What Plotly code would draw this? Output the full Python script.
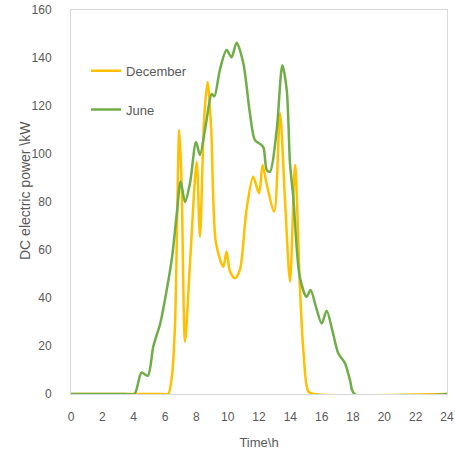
import plotly.graph_objects as go

dec_h = [0, 5.8, 6.2, 6.45, 6.64, 6.91, 7.05, 7.28, 7.6, 8.02, 8.23, 8.5, 8.72, 8.95, 9.25, 9.72, 9.93, 10.15, 10.47, 10.78, 11.2, 11.63, 12.0, 12.23, 12.48, 12.97, 13.34, 13.66, 13.98, 14.3, 14.61, 14.83, 15.15, 15.5, 24]
dec_v = [0, 0, 0, 8, 29, 110, 90, 21.8, 55, 96.8, 65.5, 115, 130, 110, 63, 53, 59.3, 51, 48.2, 51.7, 76.7, 90.5, 83.6, 95.4, 87.8, 76, 117, 80.8, 46.8, 95.4, 44.7, 18.3, 1, 0, 0]

jun_h = [0, 3.5, 4.05, 4.5, 4.9, 5.25, 5.7, 6.1, 6.45, 6.75, 7.0, 7.28, 7.6, 7.98, 8.23, 8.6, 8.98, 9.15, 9.5, 9.93, 10.25, 10.57, 11.0, 11.42, 11.74, 12.17, 12.3, 12.5, 12.7, 13.13, 13.49, 13.77, 13.98, 14.19, 14.6, 15.04, 15.29, 15.65, 16.0, 16.32, 16.7, 17.06, 17.49, 17.8, 18.1, 24]
jun_v = [0, 0, 0, 8.9, 7.6, 19.7, 29.5, 43, 57, 75, 88.5, 80, 88, 105, 99.6, 112, 125, 124, 135, 143.3, 140.3, 146.4, 137.8, 117, 105.8, 103.7, 102.4, 93.3, 92.6, 110, 137, 126.7, 96, 82, 48.9, 40.5, 43.3, 36, 29.4, 34.7, 26, 17, 12.8, 6, 0, 0]

x_ticks = list(range(0, 25, 2))
y_ticks = list(range(0, 161, 20))

fig = go.Figure()
fig.add_trace(go.Scatter(x=dec_h, y=dec_v, mode="lines", name="December",
                         line=dict(color="#FFC000", width=2.5, shape="spline", smoothing=0.8),
                         legendgroup="a"))
fig.add_trace(go.Scatter(x=jun_h, y=jun_v, mode="lines", name="June",
                         line=dict(color="#70AD47", width=2.5, shape="spline", smoothing=0.8),
                         legendgroup="b"))

font_c = "#595959"
fig.update_layout(
    width=455, height=453,
    margin=dict(l=71, r=8, t=10, b=59),
    paper_bgcolor="white", plot_bgcolor="white",
    font=dict(family="Liberation Sans, Arial", size=12, color=font_c),
    showlegend=True,
    legend=dict(x=0.04, y=0.881, xanchor="left", yanchor="top",
                bgcolor="rgba(0,0,0,0)", font=dict(size=13, color=font_c),
                tracegroupgap=19, traceorder="grouped"),
    xaxis=dict(range=[0, 24], tickvals=x_ticks, showgrid=False, zeroline=False,
               showline=True, linecolor="#D9D9D9", linewidth=1, mirror=True,
               ticks="", ticklabelstandoff=12, automargin=False,
               title=dict(text="Time\\h", font=dict(size=13, color=font_c), standoff=14)),
    yaxis=dict(range=[0, 160], tickvals=y_ticks, showgrid=False, zeroline=False,
               showline=True, linecolor="#D9D9D9", linewidth=1, mirror=True,
               ticks="", ticklabelstandoff=16, automargin=False),
    annotations=[dict(text="DC electric power \\kW", textangle=-90, showarrow=False,
                      xref="paper", yref="paper", x=-0.122, y=0.529,
                      xanchor="center", yanchor="middle",
                      font=dict(size=14, color=font_c))],
)

fig.write_html("out.html")
